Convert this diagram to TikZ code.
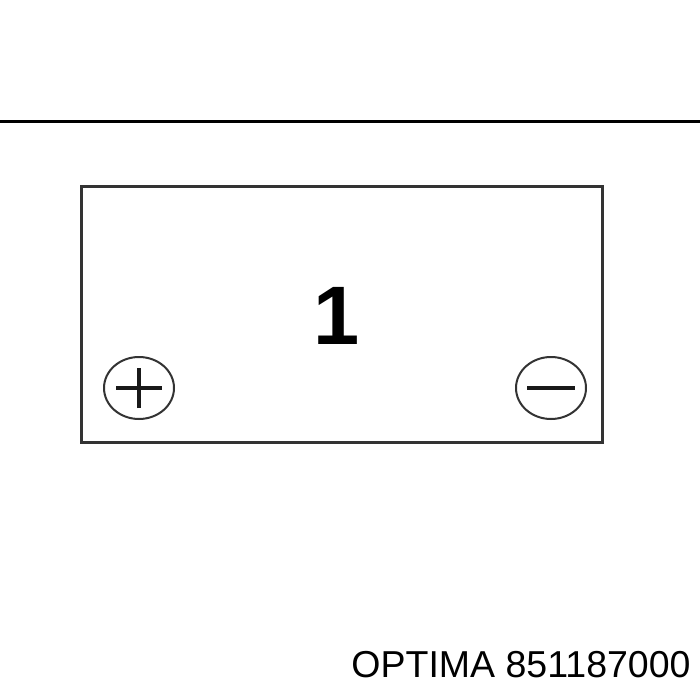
\documentclass[tikz,border=0pt]{standalone}
\usepackage{fontspec}
\setmainfont{Liberation Sans}
\usepackage{xcolor}
\usepackage{tikz}
\usetikzlibrary{positioning, calc, shapes.geometric}

\definecolor{edgegray}{HTML}{333333}
\tikzset{
    terminal/.style={draw=edgegray, ellipse, line width=2pt, minimum width=70pt, minimum height=62pt, inner sep=0pt},
    sign/.style={draw=black!90, line width=3.2pt}
}

\begin{document}
\begin{tikzpicture}[x=1pt, y=-1pt]
    \useasboundingbox (0,0) rectangle (700,700);
    % top rule
    \coordinate (ruleL) at (0,121.5);
    \coordinate (ruleR) at (700,121.5);
    \draw[line width=3pt, black] (ruleL) -- (ruleR);
    % battery outline
    \node[draw=edgegray, line width=3pt, minimum width=521pt, minimum height=256pt, inner sep=0pt] (case) at (342,314.5) {};
    \node[font=\bfseries\fontsize{83}{83}\selectfont, inner sep=0pt] (num) at (337,316) {1};
    % terminals
    \node[terminal] (pos) at (139,388) {};
    \node[terminal] (neg) at (551,388) {};
    \draw[sign] ([xshift=-23pt]pos.center) -- ([xshift=23pt]pos.center);
    \draw[sign] ([yshift=-20pt]pos.center) -- ([yshift=20pt]pos.center);
    \draw[sign] ([xshift=-24pt]neg.center) -- ([xshift=24pt]neg.center);
    % part label
    \node[anchor=base, font=\fontsize{37.5}{37.5}\selectfont, inner sep=0pt] (part) at (521,677) {OPTIMA 851187000};
\end{tikzpicture}
\end{document}
